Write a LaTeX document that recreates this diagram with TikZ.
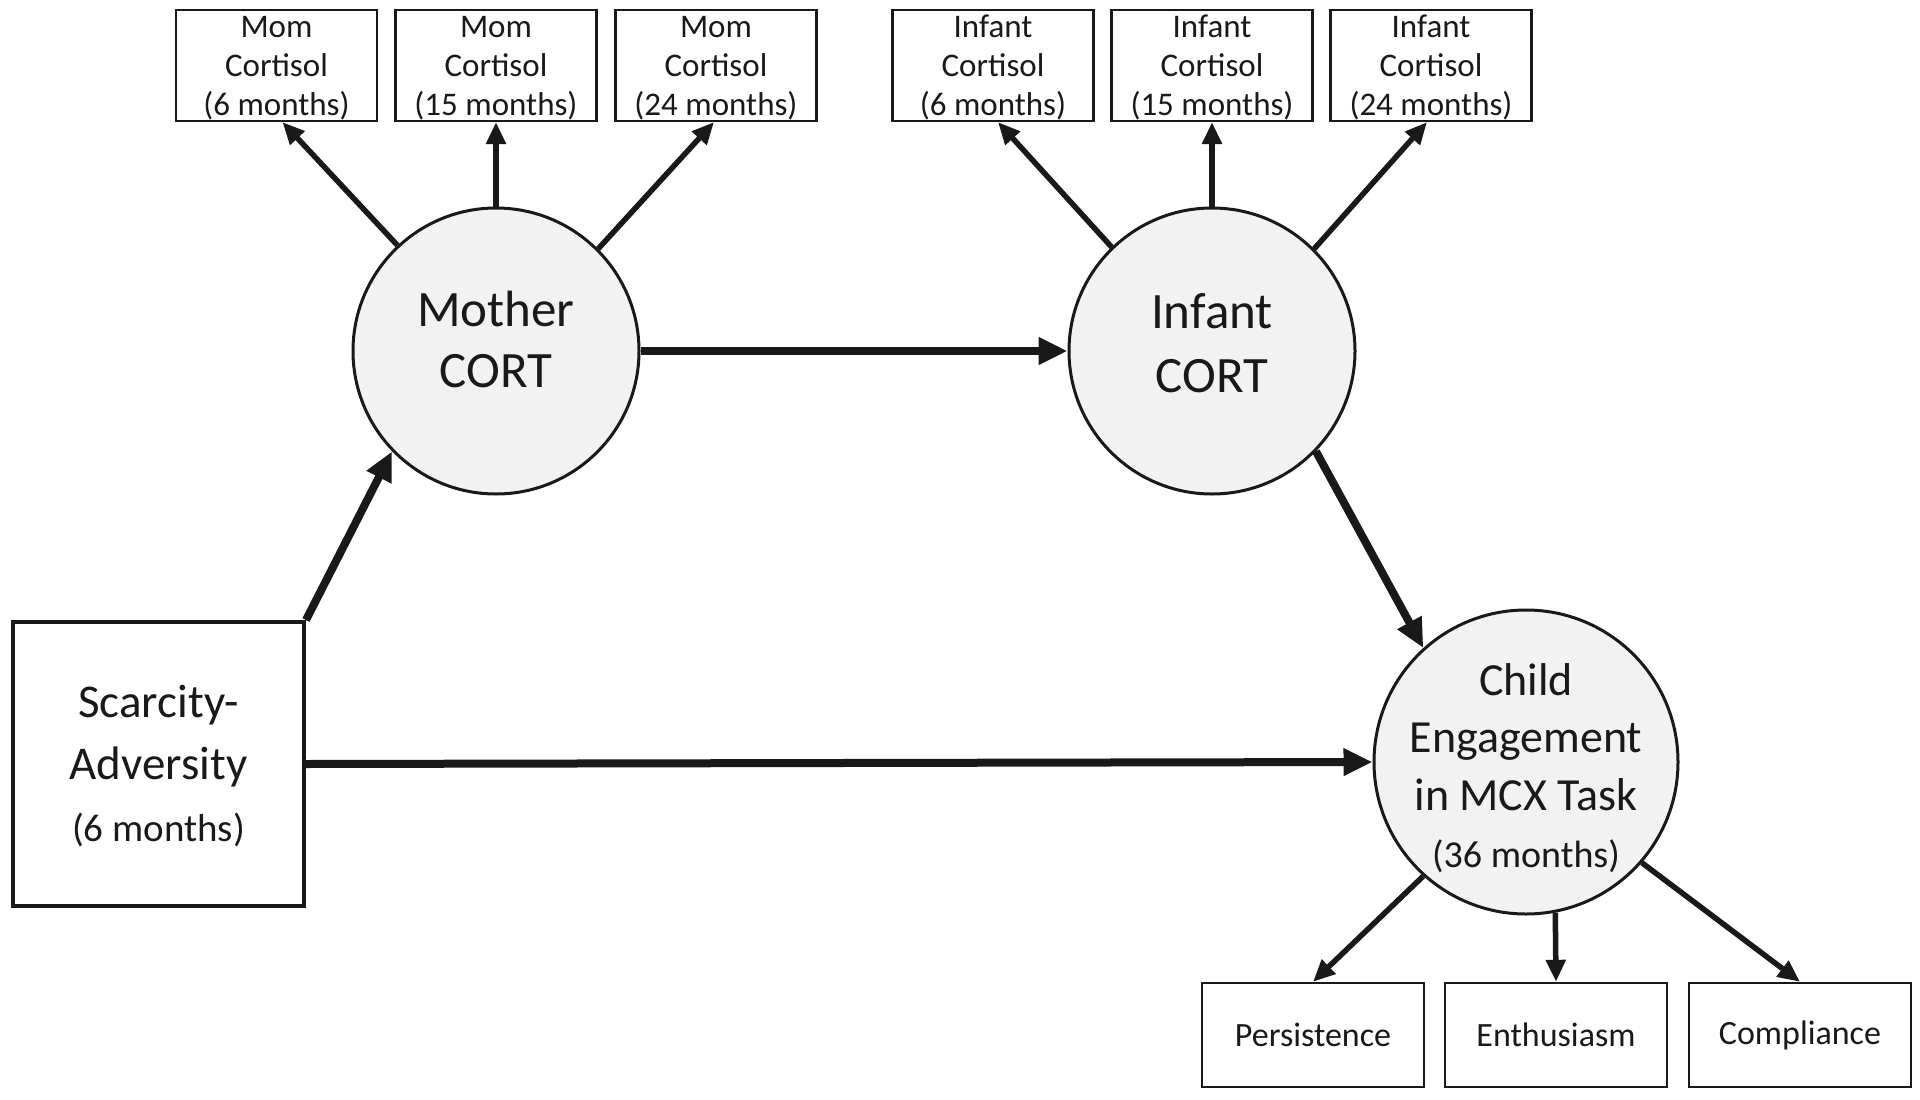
\documentclass[tikz,border=0pt]{standalone}
\usepackage{fontspec}
\setmainfont{Carlito}
\usetikzlibrary{arrows.meta}
\definecolor{cfill}{RGB}{242,242,242}
\definecolor{ink}{RGB}{25,25,25}
\begin{document}
\begin{tikzpicture}[x=1pt,y=-1pt,
  every node/.style={text=ink},
  smallbox/.style={draw=ink, line width=2.2pt, minimum width=201pt, minimum height=111pt, inner sep=0pt, align=center, text depth=0pt, font=\fontsize{33}{39}\selectfont},
  lowbox/.style={draw=ink, line width=2.4pt, minimum width=222pt, minimum height=104pt, inner sep=0pt, align=center, font=\fontsize{34}{40}\selectfont},
  bigbox/.style={draw=ink, line width=4pt, minimum width=291pt, minimum height=284pt, inner sep=0pt},
  latent/.style={draw=ink, circle, line width=3pt, fill=cfill, inner sep=0pt},
  ctext/.style={align=center, inner sep=0pt},
  thickarr/.style={draw=ink, line width=8pt, -{Triangle[length=29pt,width=26pt]}},
  thinarr/.style={draw=ink, line width=5.5pt, -{Triangle[length=22pt,width=19pt]}}
]
\useasboundingbox (0,0) rectangle (1920,1100);

% top indicator boxes
\node[smallbox] (m1) at (276.5,65.5) {Mom\\Cortisol\\(6 months)};
\node[smallbox] (m2) at (496,65.5) {Mom\\Cortisol\\(15 months)};
\node[smallbox] (m3) at (716,65.5) {Mom\\Cortisol\\(24 months)};
\node[smallbox] (i1) at (993,65.5) {Infant\\Cortisol\\(6 months)};
\node[smallbox] (i2) at (1212,65.5) {Infant\\Cortisol\\(15 months)};
\node[smallbox] (i3) at (1431,65.5) {Infant\\Cortisol\\(24 months)};

% latent circles
\node[latent, minimum size=286pt] (mo) at (496,351) {};
\node[ctext, font=\fontsize{51}{61}\selectfont] (mot) at ([yshift=12pt]mo.center) {Mother\\CORT};
\node[latent, minimum size=286pt] (in) at (1212,351) {};
\node[ctext, font=\fontsize{51}{64}\selectfont] (int) at ([yshift=8pt]in.center) {Infant\\CORT};
\node[latent, minimum size=304pt] (ch) at (1526,762) {};
\node[ctext, font=\fontsize{46}{57.5}\selectfont] (cht) at ([yshift=-6pt]ch.center) {Child\\Engagement\\in MCX Task\\{\fontsize{38}{57.5}\selectfont (36 months)}};

% scarcity box
\node[bigbox] (sc) at (158.5,764) {};
\node[ctext, font=\fontsize{47}{62}\selectfont] (sct) at ([yshift=-2pt]sc.center) {Scarcity-\\Adversity\\{\fontsize{39}{62}\selectfont (6 months)}};

% bottom indicator boxes
\node[lowbox] (pe) at (1313,1035) {Persistence};
\node[lowbox] (en) at (1556,1035) {Enthusiasm};
\node[lowbox] (co) at (1800,1035) {Compliance};

% structural paths
\draw[thickarr] (sc.north east) -- (mo.224);
\draw[thickarr] (mo.east) -- (in.west);
\draw[thickarr] (in.316) -- (ch.132);
\draw[thickarr] (sc.east) -- (ch.west);

% measurement paths
\draw[thinarr] (mo.133) -- ([xshift=6pt]m1.south);
\draw[thinarr] (mo.north) -- (m2.south);
\draw[thinarr] (mo.45) -- ([xshift=-2pt]m3.south);
\draw[thinarr] (in.134) -- ([xshift=5pt]i1.south);
\draw[thinarr] (in.north) -- (i2.south);
\draw[thinarr] (in.45) -- ([xshift=-4pt]i3.south);
\draw[thinarr] (ch.228) -- (pe.north);
\draw[thinarr] (ch.-79) -- (en.north);
\draw[thinarr] (ch.-41) -- (co.north);
\end{tikzpicture}
\end{document}
